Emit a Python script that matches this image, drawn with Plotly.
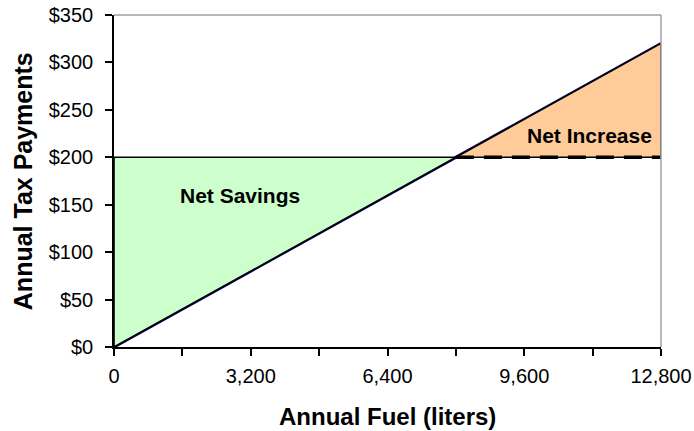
import plotly.graph_objects as go

# Fuel tax vs. flat annual payment
fuel_liters = [0, 12800]          # annual fuel use
fuel_tax = [0, 320]               # per-liter tax paid at those volumes ($)
flat_payment = 200                # flat annual payment ($)
x_ticks = [0, 1600, 3200, 4800, 6400, 8000, 9600, 11200, 12800]
x_tick_text = ["0", "", "3,200", "", "6,400", "", "9,600", "", "12,800"]
y_ticks = [0, 50, 100, 150, 200, 250, 300, 350]
y_tick_text = ["$0", "$50", "$100", "$150", "$200", "$250", "$300", "$350"]

rate = (fuel_tax[1] - fuel_tax[0]) / (fuel_liters[1] - fuel_liters[0])
breakeven = (flat_payment - fuel_tax[0]) / rate
x_max = fuel_liters[-1]
tax_max = fuel_tax[-1]

font = "Liberation Sans, Arial, sans-serif"
fig = go.Figure()

# Per-liter tax line
fig.add_trace(go.Scatter(
    x=fuel_liters, y=fuel_tax, mode="lines",
    line=dict(color="#000070", width=3), showlegend=False))

# Net savings region (flat payment above per-liter tax)
fig.add_trace(go.Scatter(
    x=[fuel_liters[0], fuel_liters[0], breakeven, fuel_liters[0]],
    y=[fuel_tax[0], flat_payment, flat_payment, fuel_tax[0]],
    fill="toself", fillcolor="#CCFFCC", mode="lines",
    line=dict(color="black", width=1.6), hoverinfo="skip", showlegend=False))

# Net increase region (per-liter tax above flat payment)
fig.add_trace(go.Scatter(
    x=[breakeven, x_max, x_max, breakeven],
    y=[flat_payment, tax_max, flat_payment, flat_payment],
    fill="toself", fillcolor="#FFCC99", mode="lines",
    line=dict(color="black", width=1.6), hoverinfo="skip", showlegend=False))

# Dashed continuation of the flat payment
fig.add_trace(go.Scatter(
    x=[breakeven, x_max], y=[flat_payment, flat_payment], mode="lines",
    line=dict(color="black", width=3.5, dash="18px,10px"),
    hoverinfo="skip", showlegend=False))

fig.add_annotation(x=2950, y=160, text="<b>Net Savings</b>", showarrow=False,
                   font=dict(family=font, size=21, color="black"))
fig.add_annotation(x=11130, y=223, text="<b>Net Increase</b>", showarrow=False,
                   font=dict(family=font, size=21, color="black"))

# Axis titles
fig.add_annotation(xref="paper", yref="paper", x=0.5, y=-0.208,
                   xanchor="center", yanchor="middle", showarrow=False,
                   text="<b>Annual Fuel (liters)</b>",
                   font=dict(family=font, size=24, color="black"))
fig.add_annotation(xref="paper", yref="paper", x=-0.166, y=0.5,
                   xanchor="center", yanchor="middle", showarrow=False,
                   textangle=-90, text="<b>Annual Tax Payments</b>",
                   font=dict(family=font, size=25, color="black"))

# Grey frame on top and right of the plot area
fig.add_shape(type="line", xref="paper", yref="paper", x0=0, x1=1, y0=1, y1=1,
              line=dict(color="#a0a0a0", width=1.5))
fig.add_shape(type="line", xref="paper", yref="paper", x0=1, x1=1, y0=0, y1=1,
              line=dict(color="#a0a0a0", width=1.5))

fig.update_layout(
    width=694, height=431,
    margin=dict(l=114, r=33, t=15, b=84),
    paper_bgcolor="white", plot_bgcolor="white",
    font=dict(family=font, size=20, color="black"),
    xaxis=dict(range=[0, x_max], tickvals=x_ticks, ticktext=x_tick_text,
               ticks="outside", ticklen=7, tickcolor="black", tickwidth=1.5,
               tickfont=dict(size=20), automargin=False, ticklabelstandoff=3,
               showline=True, linecolor="black", linewidth=1.5,
               showgrid=False, zeroline=False),
    yaxis=dict(range=[0, 350], tickvals=y_ticks, ticktext=y_tick_text,
               ticks="outside", ticklen=7, tickcolor="black", tickwidth=1.5,
               tickfont=dict(size=20), automargin=False, ticklabelstandoff=8,
               showline=True, linecolor="black", linewidth=1.5,
               showgrid=False, zeroline=False),
)

fig.write_html("out.html")
